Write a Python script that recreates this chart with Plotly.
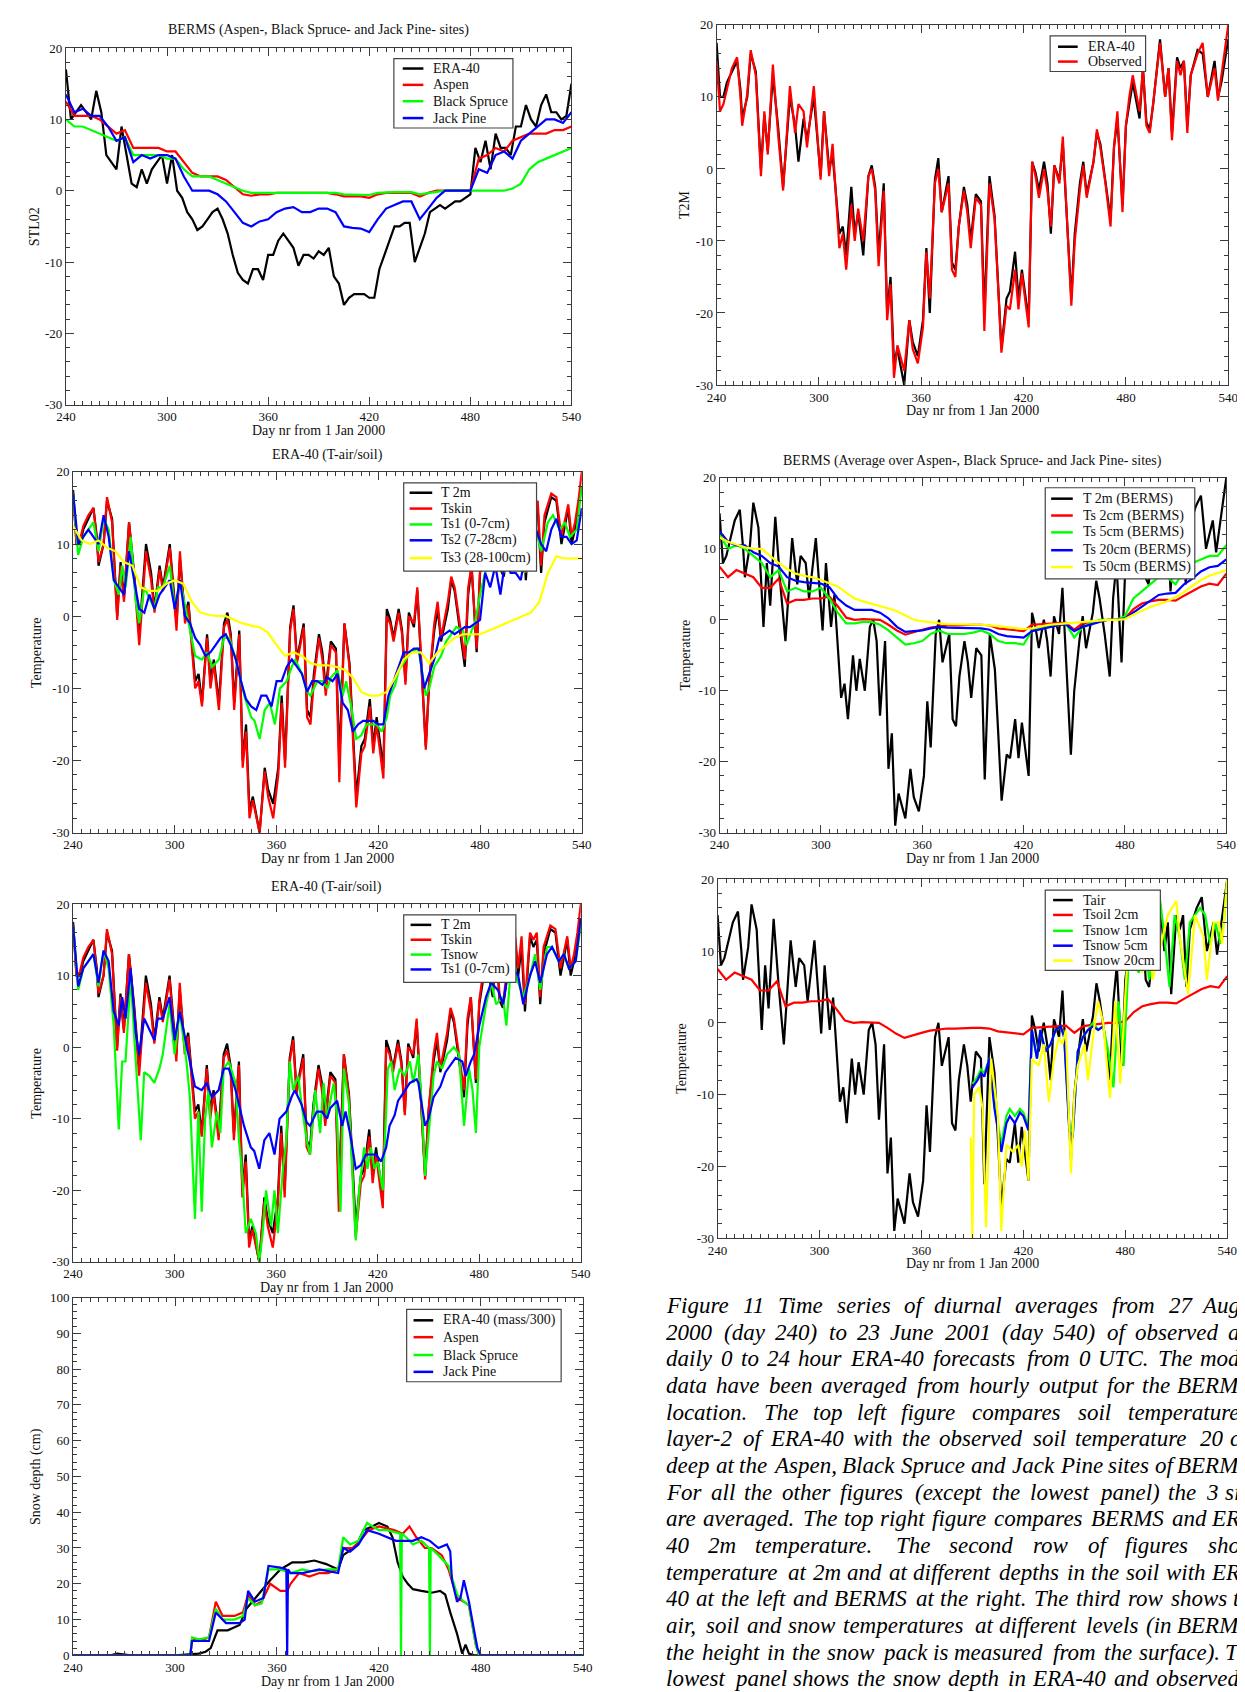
import plotly.graph_objects as go

W, H = 1245, 1692
FONT = "Liberation Serif"
BLACK, RED, GREEN, BLUE, YELLOW = "#000000", "#ff0000", "#00ff00", "#0000ff", "#ffff00"

# ---------------- tick values ----------------
day_ticks = [240, 300, 360, 420, 480, 540]
temp_ticks = [-30, -20, -10, 0, 10, 20]
snow_ticks = [0, 10, 20, 30, 40, 50, 60, 70, 80, 90, 100]

# ---------------- 2 m air temperature (observed BERMS and ERA-40), skin temperature ----------------
day_t2m = [240, 242, 244, 246, 249, 252, 254, 255, 258, 260,
           263, 266, 268, 270, 273, 276, 279, 283, 286, 288,
           291, 293, 297, 301, 303, 306, 308, 312, 314, 316,
           319, 321, 323, 326, 329, 331, 333, 335, 338, 340,
           342, 344, 346, 350, 353, 355, 358, 361, 363, 365,
           368, 370, 372, 376, 378, 380, 382, 385, 387, 389,
           392, 395, 397, 400, 403, 405, 407, 410, 412, 415,
           417, 419, 423, 425, 427, 429, 432, 434, 436, 438,
           441, 443, 445, 448, 450, 453, 455, 457, 461, 463,
           465, 468, 471, 473, 475, 478, 480, 482, 484, 488,
           490, 492, 494, 496, 500, 503, 505, 507, 510, 512,
           514, 516, 518, 522, 525, 528, 532, 534, 536, 538, 540]
obs_t2m = [15, 8, 9, 11, 14, 15.5, 10, 6, 10.5, 16.5,
           13, -1, 8, 2, 14.5, 5, -3, 11.5, 5, 9,
           8, 3, 11.5, -1.5, 8, -1, 3.5, -11, -9, -14,
           -5, -10, -5.5, -10, -1, 0, -3, -13.5, -3, -21,
           -16, -29, -24.5, -28, -21, -25, -27, -22, -11.5, -18,
           -2, 0, -6, -2, -14, -15, -8, -3, -6, -11,
           -4, -5, -22.5, -2, -7, -16, -25.5, -19, -19.5, -14,
           -19.5, -14.5, -22, 1, -1, -4, 0, -3, -8, 0.5,
           -2, 4.5, -5.5, -19, -10, -3, 0.5, -4, 1, 5.5,
           3, -2, -8, 3, 8, -6, 6, 10, 13, 8,
           14, 6, 5, 9, 17.5, 10, 14, 4, 15, 13,
           15, 5, 13, 16, 17.5, 10, 14, 9.5, 13, 17, 20]
era_t2m = [17.5, 10, 10, 12, 13.5, 15, 11, 7, 10, 16,
           13.5, 0, 7.5, 2.5, 13, 6, -2.5, 10, 6, 1,
           7, 4, 10, -1, 8, 0, 2, -9, -8, -12,
           -2.5, -9, -6, -12, -1, 0.5, -2.5, -12, -2, -20,
           -15, -27, -25, -30, -21, -24, -26, -21, -11, -20,
           -1.5, 1.5, -6, -1, -13, -14, -8, -2.5, -5, -10,
           -3.5, -4.5, -20, -1, -6.5, -15, -25, -18, -17, -11.5,
           -18, -14, -21, 1, -0.5, -3, 1, -2, -9, 0.5,
           -1.5, 3.5, -5, -18, -9, -2, 1, -3.5, 1, 5,
           3.5, -1.5, -7, 3, 7, -5, 6, 9, 12, 7,
           14, 6.5, 5.5, 9, 18, 10, 14, 5, 15.5, 14,
           15, 6, 13, 16.5, 16, 10, 15, 10, 12, 15, 18]
era_tskin = [17, 10, 10.5, 12.5, 14, 15, 10.5, 7.5, 10, 16.5,
             13, -0.5, 7, 2, 13, 5.5, -4, 9, 5, 0.5,
             6.5, 3.5, 9.5, -2, 9, -1, 1.5, -10, -9, -12.5,
             -3, -10, -6.5, -13, -1.5, -0.5, -3, -13, -2.5, -21,
             -16, -28, -25.5, -30, -21.5, -25, -28, -22, -12, -21,
             -2, 1, -6.5, -1.5, -14, -15, -9, -3, -6, -11,
             -4, -5, -23, -1, -7, -16, -26.5, -19, -18, -12.5,
             -19, -15, -22.5, 0, -1, -3.5, 0.5, -2.5, -9.5, 0,
             -1, 4, -4.5, -18.5, -9, -1, 2, -3, 2, 5.5,
             4, -1, -6, 4, 7, -4.5, 6.5, 10, 13, 8,
             15, 7, 6, 10, 18.5, 11, 15.5, 6, 16, 15,
             16, 7, 14, 17, 16.5, 11, 15.5, 11, 13, 16, 20]

# ---------------- ERA-40 soil layer 1 (0-7 cm) ----------------
day_ts1 = [240, 243, 246, 249, 252, 255, 258, 261, 264, 267,
           269, 271, 274, 277, 279, 282, 284, 288, 290, 293,
           297, 300, 303, 307, 309, 312, 316, 319, 322, 326,
           329, 332, 336, 338, 341, 345, 347, 350, 353, 356,
           359, 362, 366, 369, 371, 375, 378, 380, 384, 387,
           390, 392, 396, 399, 401, 404, 407, 410, 413, 416,
           419, 422, 425, 427, 430, 432, 436, 439, 443, 444,
           448, 450, 453, 457, 460, 463, 466, 470, 472, 475,
           477, 480, 484, 487, 491, 494, 496, 500, 503, 506,
           510, 513, 516, 520, 523, 527, 530, 533, 537, 540]
era_ts1 = [17, 8.5, 11, 12, 13, 9, 13.5, 12, 5, 3,
           7, 4, 11, 2, -1, 4, 3, 1, 4, 4,
           7, 1, 5, 0, -2, -5.5, -6, -5, -7, -6,
           -3, -3, -6, -8, -11, -14, -14.5, -17, -13, -12,
           -15, -10, -9, -7, -6, -8, -10.5, -11, -9, -9,
           -10, -8.5, -7.5, -11, -9, -12.5, -17, -16.5, -15, -15,
           -15, -16, -14, -11, -9.5, -7.5, -6, -5, -4.5, -5,
           -11, -10, -7, -5.5, -3.5, -2.5, -1.5, -2, -4, -2,
           -1, 3, 7, 9, 8, 6, 9, 11, 10, 6,
           10, 12, 9, 13, 14, 12, 13, 11, 12, 18]

# ---------------- ERA-40 soil layer 2 (7-28 cm) = STL02 ----------------
day_ts2 = list(range(240, 541, 3))
era_ts2 = [17, 10, 11, 12, 11, 10, 14, 11, 5, 4,
           3, 9, 5, 1, 0.5, 3, 1, 3, 4, 5,
           1, 5, 0, -1, -3, -4, -5.5, -5, -4, -3,
           -2.5, -4, -6, -9, -11.5, -12.5, -13, -11, -11, -12.5,
           -9, -9, -7, -6, -7, -8, -10.5, -9, -9, -9.5,
           -8.5, -9, -8, -12, -13, -16, -15, -14.5, -14.5, -14.5,
           -15, -15, -11, -9, -7, -5, -5, -4.5, -4.5, -10,
           -8, -6, -3, -2.5, -2, -2.5, -2, -1.5, -1.5, -1,
           -0.5, 6, 4, 7, 3, 8, 6, 6, 5, 9,
           9, 12, 10, 9, 12, 13.5, 11, 11, 10, 10.5,
           15]

# ---------------- 5-day grid series ----------------
day_5 = list(range(240, 541, 5))
era_ts3 = [12.5, 10.5, 10, 10.5, 9.5, 9, 7.5, 7, 4, 3.5,
           3.5, 4.5, 5, 4.5, 2, 0.5, 0.2, 0, 0, -0.5,
           -1, -1.3, -1.5, -2.3, -4, -5.5, -5, -5.5, -6.5, -6.8,
           -6.8, -7, -7.4, -8.5, -10.5, -11, -11, -10.5, -8.5, -6,
           -5, -5, -6.5, -5, -4, -3, -2.5, -2.5, -2.5, -2,
           -1.5, -1, -0.5, 0, 0.5, 2, 6, 8.3, 8, 8,
           8]
aspen_ts20 = [12.5, 10.5, 10.5, 10.5, 10, 9, 8, 8.5, 6, 6,
              6, 6, 5.5, 5.5, 4, 2.5, 2, 2, 2, 1.5,
              0.5, -0.5, -0.7, -0.5, -0.5, -0.3, -0.3, -0.3, -0.3, -0.3,
              -0.3, -0.3, -0.5, -0.8, -0.8, -0.8, -1, -0.5, -0.3, -0.3,
              -0.3, -0.3, -0.8, -0.3, 0, 0, 0, 0, 0, 4.5,
              5, 6, 5.5, 7, 7.5, 8, 8, 8, 8.5, 8.5,
              9]
bspruce_ts20 = [10, 9, 9, 8.5, 8, 7.5, 7, 7.5, 5, 5,
                5, 5, 4.5, 4.5, 3, 2, 2, 2, 1.5, 1,
                0.5, 0, -0.3, -0.3, -0.2, -0.2, -0.2, -0.2, -0.2, -0.2,
                -0.2, -0.2, -0.3, -0.5, -0.5, -0.5, -0.6, -0.3, -0.2, -0.2,
                -0.2, -0.2, -0.5, -0.3, -0.2, 0, 0, 0, 0, 0,
                0, 0, 0, 0.3, 1, 3, 4, 4.5, 5, 5.5,
                6]
jpine_ts20 = [13.5, 11, 11.5, 10.5, 10.5, 9, 7, 7.5, 4, 5,
              4.5, 5, 5, 4.5, 2, 0, 0, 0, -0.5, -1.5,
              -3, -4.5, -5, -4.3, -4, -3, -2.5, -2.3, -3, -3,
              -2.5, -2.5, -3, -5, -5.2, -5.3, -5.8, -4, -2.5, -2,
              -1.5, -1.5, -4, -2.5, -1, 0, 0, 0, 0, 3,
              2.5, 5, 5.5, 4.5, 7, 8, 9, 10, 10, 9.5,
              11]
berms_ts2 = [7.5, 6, 7, 6.5, 6, 4.5, 4.5, 5.8, 2.3, 2.8,
             2.8, 3, 3, 3.3, 1.9, 0.3, 0, 0.1, 0.1, 0,
             -0.7, -1.5, -2.1, -1.7, -1.4, -1.1, -0.9, -0.8, -0.8, -0.7,
             -0.7, -0.7, -0.8, -1.2, -1.3, -1.4, -1.6, -0.7, -0.6, -0.5,
             -0.4, -0.4, -1.4, -0.5, -0.3, -0.1, 0, 0, 0.2, 1.5,
             2.3, 2.6, 2.8, 2.8, 2.7, 3.4, 4, 4.7, 5.1, 4.9,
             6.5]
berms_ts5 = [12, 10, 10.5, 10, 9, 8, 6, 7, 4, 4.5,
             4, 4, 4.5, 3, 1, -0.5, -0.5, -0.3, -0.3, -0.7,
             -1.5, -2.5, -3.5, -3.3, -3, -2, -1.5, -2, -2, -2,
             -1.8, -1.5, -2, -3, -3.3, -3.3, -3.5, -1.5, -1.2, -1,
             -0.8, -0.5, -2.5, -1, -0.5, 0, 0, 0, 0.5, 3,
             4, 5, 6, 6, 5, 7, 8, 8.5, 9, 9,
             10.5]
berms_ts20 = [12.5, 11, 10.5, 10.5, 9.5, 9, 8, 7.5, 6, 5.5,
              5.3, 5.2, 5.1, 4.6, 3, 2, 1.4, 1.4, 1.4, 1,
              0.2, -1, -1.7, -1.6, -1.5, -1.2, -1, -1.1, -1.1, -1.1,
              -1.1, -1.2, -1.4, -2, -2.3, -2.4, -2.5, -1.6, -1.3, -1,
              -0.8, -0.6, -1.6, -1, -0.6, -0.3, 0, 0, 0.2, 1,
              1.9, 2.7, 3.5, 3.7, 3.8, 5, 5.8, 6.8, 7.4, 7.6,
              8.5]
berms_ts50 = [11.6, 11, 10.6, 10.2, 10, 10, 9, 8, 7.2, 6.5,
              6.2, 6, 5.6, 5.2, 4.7, 3.8, 3, 2.6, 2.3, 1.9,
              1.6, 1.2, 0.6, 0, -0.2, -0.4, -0.5, -0.6, -0.6, -0.6,
              -0.7, -0.7, -0.8, -0.9, -1.1, -1.2, -1.3, -1.2, -0.9, -0.7,
              -0.6, -0.5, -0.4, -0.2, -0.1, 0, 0, 0, 0.1, 0.7,
              1.3, 1.8, 2.2, 2.6, 3.2, 3.9, 4.8, 5.6, 6.2, 6.6,
              7]

# ---------------- ERA-40 snow temperature ----------------
day_tsnow = [240, 243, 246, 249, 252, 255, 258, 261, 264, 267,
             269, 271, 274, 276, 280, 282, 285, 288, 291, 293,
             297, 300, 303, 307, 309, 312, 314, 316, 318, 320,
             322, 325, 327, 329, 332, 336, 338, 340, 342, 345,
             348, 350, 352, 354, 357, 359, 361, 364, 366, 368,
             370, 373, 375, 378, 380, 383, 386, 388, 390, 394,
             396, 398, 400, 403, 405, 407, 409, 412, 414, 416,
             418, 420, 423, 426, 428, 430, 433, 436, 439, 441,
             444, 446, 448, 450, 453, 455, 458, 461, 465, 468,
             471, 474, 476, 478, 480, 484, 487, 490, 494, 496,
             499, 503, 506, 510, 513, 516, 520, 523, 527, 530,
             533, 537, 540]
era_tsnow = [17, 8, 11, 12, 13, 8.5, 13.5, 11, 3, -11.5,
             -2, -2, 10, 2, -13, -3.5, -4, -5, -3, -1,
             6, -1, 5, -2, -7, -24, -9, -23, -10, -6,
             -14, -9, -12, -3, -2, -5, -13, -18, -26, -24,
             -26, -30, -26, -20, -25, -20, -26, -17, -13, -2,
             -6, -4, -8, -13, -15, -6, -12, -5, -10, -5,
             -10, -23, -3, -8, -17, -27, -20, -14, -17, -14,
             -17, -16, -20, -3, -2, -6, -3, -4, -2, -5,
             -1, -8, -18, -12, -4, -2, -3, -1, 0, -1,
             -11, -3, -6, -12, 0, 6, 9, 6, 7, 3,
             12, 9, 7, 10, 13, 8, 14, 14, 12, 13,
             11, 12, 17]

# ---------------- BERMS snow-pack temperatures ----------------
day_tsn5 = [390, 393, 395, 397, 400, 403, 405, 407, 410, 412,
            415, 418, 420, 423, 425, 428, 430, 433, 436, 439,
            442, 444, 447, 449, 452, 455, 458, 461, 464, 467]
tsnow_5cm = [-9, -8, -7, -7.5, -5, -12, -15, -18, -14, -13,
             -14, -12.5, -13, -15, -1, -5, -1, -4, -3, -1,
             -0.5, -2, -15, -16, -4, -2, -1, -0.5, -1, -0.5]
day_tsn1 = [390, 393, 395, 397, 400, 403, 405, 407, 410, 412,
            415, 418, 420, 423, 425, 428, 430, 433, 436, 439,
            442, 444, 447, 449, 452, 455, 458, 461, 464, 467,
            470, 473, 476, 479, 482, 485, 488, 491, 494, 497,
            500, 503, 506, 509, 512, 515, 518, 521, 524, 527,
            530, 533, 536, 538, 540]
tsnow_1cm = [-8.5, -7.5, -6.5, -7, -5, -11.5, -14, -17, -13, -12,
             -13, -12, -12.5, -14.5, -1, -5, -1, -4, -3, -1,
             -0.5, -2, -14, -16, -4, -2, -1, 0, -1, -0.5,
             -4, -9, 3, -6, 9, 8, 7, 13, 6, 10,
             18, 12, 5, 15, 12, 6, 14, 15, 16, 15,
             11, 14, 11, 14, 20]
day_tsn20 = [389, 390, 391, 394, 396, 398, 401, 405, 407, 410,
             414, 417, 419, 421, 423, 425, 429, 432, 435, 438,
             441, 443, 445, 448, 450, 452, 456, 458, 462, 464,
             467, 471, 474, 477, 481, 485, 490, 494, 496, 500,
             505, 510, 512, 517, 521, 526, 528, 532, 535, 537,
             540]
tsnow_20cm = [-16, -30, -10, -9, -12, -28.5, -5, -13, -29, -17,
              -18, -17, -20, -15, -22, -5, -6, -3, -11, -5,
              -2, -3, -1, -21, -10, -6, -3, -8, 0, 3,
              0, -10.5, 3, -8.5, 8, 9, 7, 13, 6, 10,
              15, 17, 12, 4, 15, 12, 6, 14, 14, 11,
              20]

# ---------------- snow depth ----------------
day_sd_era = [240, 262, 266, 270, 274, 300, 310, 314, 318, 321,
              325, 331, 338, 342, 349, 356, 362, 369, 376, 382,
              389, 396, 399, 402, 407, 411, 416, 420, 425, 428,
              431, 434, 437, 440, 445, 451, 456, 459, 462, 466,
              469, 471, 473, 476, 480, 540]
sd_era = [0, 0, 0.5, 0.3, 0, 0, 0.5, 0.5, 1, 2,
          7, 7, 8.5, 13, 17, 21, 24, 26, 26, 26.5,
          25.5, 24, 28, 29, 31, 35, 36, 37, 36, 33,
          26, 22, 20, 18.5, 18, 17.5, 18, 17, 12, 6,
          0.5, 3, 0.5, 0, 0, 0]
day_sd_aspen = [240, 309, 310, 314, 320, 322, 324, 328, 335, 340,
                343, 347, 351, 356, 362, 366, 368, 373, 379, 385,
                390, 396, 399, 405, 409, 414, 420, 429, 434, 438,
                442, 447, 451, 457, 461, 466, 470, 473, 477, 479,
                540]
sd_aspen = [0, 0, 4.5, 4, 5, 10, 15, 11, 11, 12,
            17, 14, 15, 20, 18, 18, 20, 23, 22, 23,
            23, 24, 30, 30, 32, 35, 36, 35, 34, 36,
            33, 30, 30, 28, 24, 16, 15, 14, 3, 0,
            0]
day_sd_bspruce = [240, 309, 310, 314, 320, 322, 324, 328, 335, 340,
                  343, 347, 351, 355, 362, 368, 375, 380, 390, 396,
                  399, 403, 408, 413, 420, 425, 432.5, 433, 433.5, 436,
                  440, 445, 449.5, 450, 450.5, 455, 461, 466, 470, 473,
                  477, 479, 540]
sd_bspruce = [0, 0, 5, 4.5, 5, 9, 13, 10, 10, 11,
              16, 14, 14.5, 24, 24, 23, 24, 23.5, 24, 24,
              33, 31, 32, 37, 35, 35, 34, 0, 34, 33,
              31, 32, 30, 0, 30, 28, 25, 17, 15, 14,
              3, 0, 0]
day_sd_jpine = [240, 309, 310, 314, 320, 322, 324, 330, 338, 341,
                343, 347, 352, 355, 362, 365.5, 366, 366.5, 368, 375,
                385, 396, 399, 403, 408, 413, 420, 430, 440, 445,
                450, 455, 460, 462, 463, 466, 468, 470, 473, 476,
                478, 480, 540]
sd_jpine = [0, 0, 4, 4, 4, 8, 12, 9, 9, 10,
            18, 15, 16, 25, 24.5, 24, 0, 24, 23, 23,
            24, 23, 30, 29, 31, 35, 34, 32, 32, 33,
            32, 30, 31, 29, 21, 15, 16, 21, 15, 7,
            2, 0, 0]

# ---------------- caption ----------------
caption_lines = [
    "Figure 11 Time series of diurnal averages from 27 Aug",
    "2000 (day 240) to 23 June 2001 (day 540) of observed a",
    "daily 0 to 24 hour ERA-40 forecasts from 0 UTC. The mod",
    "data have been averaged from hourly output for the BERM",
    "location. The top left figure compares soil temperature",
    "layer-2 of ERA-40 with the observed soil temperature 20 c",
    "deep at the Aspen, Black Spruce and Jack Pine sites of BERM",
    "For all the other figures (except the lowest panel) the 3 si",
    "are averaged. The top right figure compares BERMS and ER",
    "40 2m temperature. The second row of figures sho",
    "temperature at 2m and at different depths in the soil with ER",
    "40 at the left and BERMS at the right. The third row shows t",
    "air, soil and snow temperatures at different levels (in BERM",
    "the height in the snow pack is measured from the surface). T",
    "lowest panel shows the snow depth in ERA-40 and observed",
]

# ================= figure =================
def fx(px):
    return px / W


def fy(py):
    return 1 - py / H


panels = [
    dict(l=48.7, r=562.5, t=33.3, b=393.3, snow=False, ytitle="STL02", ytx=17,
         title="BERMS (Aspen-, Black Spruce- and Jack Pine- sites)", title_y=15),
    dict(l=710, r=1230, t=10, b=373.3, snow=False, ytitle="T2M", ytx=678, title=None),
    dict(l=56, r=573, t=461, b=825, snow=False, ytitle="Temperature", ytx=19,
         title="ERA-40 (T-air/soil)", title_y=444),
    dict(l=713, r=1228, t=467, b=825, snow=False, ytitle="Temperature", ytx=678,
         title="BERMS (Average over Aspen-, Black Spruce- and Jack Pine- sites)", title_y=450),
    dict(l=56, r=572, t=897, b=1258, snow=False, ytitle="Temperature", ytx=19,
         title="ERA-40 (T-air/soil)", title_y=880),
    dict(l=711, r=1229, t=872, b=1234, snow=False, ytitle="Temperature", ytx=675, title=None),
    dict(l=56, r=574, t=1294, b=1655, snow=True, ytitle="Snow depth (cm)", ytx=19, title=None),
]

series = {
    1: [(day_ts2, era_ts2, BLACK, "ERA-40"), (day_5, aspen_ts20, RED, "Aspen"),
        (day_5, bspruce_ts20, GREEN, "Black Spruce"), (day_5, jpine_ts20, BLUE, "Jack Pine")],
    2: [(day_t2m, era_t2m, BLACK, "ERA-40"), (day_t2m, obs_t2m, RED, "Observed")],
    3: [(day_t2m, era_t2m, BLACK, "T 2m"), (day_t2m, era_tskin, RED, "Tskin"),
        (day_ts1, era_ts1, GREEN, "Ts1 (0-7cm)"), (day_ts2, era_ts2, BLUE, "Ts2 (7-28cm)"),
        (day_5, era_ts3, YELLOW, "Ts3 (28-100cm)")],
    4: [(day_t2m, obs_t2m, BLACK, "T 2m (BERMS)"), (day_5, berms_ts2, RED, "Ts 2cm (BERMS)"),
        (day_5, berms_ts5, GREEN, "Ts 5cm (BERMS)"), (day_5, berms_ts20, BLUE, "Ts 20cm (BERMS)"),
        (day_5, berms_ts50, YELLOW, "Ts 50cm (BERMS)")],
    5: [(day_t2m, era_t2m, BLACK, "T 2m"), (day_t2m, era_tskin, RED, "Tskin"),
        (day_tsnow, era_tsnow, GREEN, "Tsnow"), (day_ts1, era_ts1, BLUE, "Ts1 (0-7cm)")],
    6: [(day_t2m, obs_t2m, BLACK, "Tair"), (day_5, berms_ts2, RED, "Tsoil 2cm"),
        (day_tsn1, tsnow_1cm, GREEN, "Tsnow 1cm"), (day_tsn5, tsnow_5cm, BLUE, "Tsnow 5cm"),
        (day_tsn20, tsnow_20cm, YELLOW, "Tsnow 20cm")],
    7: [(day_sd_era, sd_era, BLACK, "ERA-40 (mass/300)"), (day_sd_aspen, sd_aspen, RED, "Aspen"),
        (day_sd_bspruce, sd_bspruce, GREEN, "Black Spruce"), (day_sd_jpine, sd_jpine, BLUE, "Jack Pine")],
}

# legend geometry: box (l, t, r, b), sample line x0, x1, text x, entry y's
legends = {
    1: dict(box=(382, 44, 503, 114), lx=(391, 412), tx=420, ys=[54, 70.5, 87, 104]),
    2: dict(box=(1049, 21, 1146, 57), lx=(1057, 1077), tx=1085, ys=[32, 47]),
    3: dict(box=(392, 472, 527, 561), lx=(398, 421), tx=428, ys=[482, 498, 514, 530, 548]),
    4: dict(box=(1044, 477, 1196, 569), lx=(1050, 1072), tx=1080, ys=[488, 505, 522, 540, 557]),
    5: dict(box=(392, 908, 506, 976), lx=(399, 420), tx=428, ys=[918, 933, 948, 963]),
    6: dict(box=(1044, 883, 1161, 964), lx=(1052, 1072), tx=1080, ys=[893, 908, 924, 939, 954]),
    7: dict(box=(395, 1306, 552, 1379), lx=(402, 422), tx=430, ys=[1317, 1334, 1352, 1369]),
}

fig = go.Figure()
layout = dict(width=W, height=H, margin=dict(l=0, r=0, t=0, b=0), autosize=False,
              paper_bgcolor="white", plot_bgcolor="white", showlegend=False)
annotations = []
shapes = []
AX = "#3a3a3a"
TXT = "#111111"

for i, p in enumerate(panels, start=1):
    xn = "xaxis" if i == 1 else f"xaxis{i}"
    yn = "yaxis" if i == 1 else f"yaxis{i}"
    xr = "x" if i == 1 else f"x{i}"
    yr = "y" if i == 1 else f"y{i}"
    layout[xn] = dict(
        domain=[fx(p["l"]), fx(p["r"])], anchor=yr, range=[240, 540],
        tickmode="array", tickvals=day_ticks, ticktext=[str(v) for v in day_ticks],
        ticks="inside", ticklen=8, tickwidth=1, tickcolor=AX,
        minor=dict(tickmode="linear", tick0=240, dtick=5, ticks="inside", ticklen=4,
                   tickwidth=1, tickcolor=AX, showgrid=False),
        showline=True, linecolor=AX, linewidth=1, mirror="allticks",
        showgrid=False, zeroline=False,
        tickfont=dict(family=FONT, size=13, color=TXT), fixedrange=True,
    )
    if p["snow"]:
        yt, yrange, ydt = snow_ticks, [0, 100], 2
    else:
        yt, yrange, ydt = temp_ticks, [-30, 20], 2
    layout[yn] = dict(
        domain=[fy(p["b"]), fy(p["t"])], anchor=xr, range=yrange,
        tickmode="array", tickvals=yt, ticktext=[str(v) for v in yt],
        ticks="inside", ticklen=8, tickwidth=1, tickcolor=AX,
        minor=dict(tickmode="linear", tick0=yrange[0], dtick=ydt, ticks="inside", ticklen=4,
                   tickwidth=1, tickcolor=AX, showgrid=False),
        showline=True, linecolor=AX, linewidth=1, mirror="allticks",
        showgrid=False, zeroline=False,
        tickfont=dict(family=FONT, size=13, color=TXT), fixedrange=True,
    )
    for xs, ys, col, name in series[i]:
        fig.add_trace(go.Scatter(x=xs, y=ys, mode="lines", name=name,
                                 line=dict(color=col, width=2.2),
                                 xaxis=xr, yaxis=yr, showlegend=False))
    cx = (p["l"] + p["r"]) / 2
    xt_y = min(p["b"] + 26, 1682.5)
    annotations.append(dict(x=fx(cx), y=fy(xt_y), xref="paper", yref="paper",
                            text="Day nr from 1 Jan 2000", showarrow=False,
                            xanchor="center", yanchor="middle",
                            font=dict(family=FONT, size=14, color=TXT)))
    annotations.append(dict(x=fx(p["ytx"]), y=fy((p["t"] + p["b"]) / 2), xref="paper", yref="paper",
                            text=p["ytitle"], showarrow=False, textangle=-90,
                            xanchor="center", yanchor="middle",
                            font=dict(family=FONT, size=14, color=TXT)))
    if p["title"]:
        annotations.append(dict(x=fx(cx), y=fy(p["title_y"]), xref="paper", yref="paper",
                                text=p["title"], showarrow=False,
                                xanchor="center", yanchor="middle",
                                font=dict(family=FONT, size=14, color=TXT)))
    lg = legends[i]
    bl, bt, br, bb = lg["box"]
    shapes.append(dict(type="rect", xref="paper", yref="paper", x0=fx(bl), x1=fx(br),
                       y0=fy(bb), y1=fy(bt), fillcolor="white",
                       line=dict(color="#444", width=1.2), layer="above"))
    for (xs, ys, col, name), ly in zip(series[i], lg["ys"]):
        shapes.append(dict(type="line", xref="paper", yref="paper",
                           x0=fx(lg["lx"][0]), x1=fx(lg["lx"][1]), y0=fy(ly), y1=fy(ly),
                           line=dict(color=col, width=2.5), layer="above"))
        annotations.append(dict(x=fx(lg["tx"]), y=fy(ly), xref="paper", yref="paper",
                                text=name, showarrow=False, xanchor="left", yanchor="middle",
                                font=dict(family=FONT, size=14, color=TXT)))

# ---------------- caption (justified, Times italic metrics) ----------------
lower_w = dict(zip("abcdefghijklmnopqrstuvwxyz",
                   [500, 500, 444, 500, 444, 278, 500, 500, 278, 278, 444, 278, 722,
                    500, 500, 500, 500, 389, 389, 278, 500, 444, 667, 444, 444, 389]))
upper_w = dict(zip("ABCDEFGHIJKLMNOPQRSTUVWXYZ",
                   [611, 611, 667, 722, 611, 611, 722, 722, 333, 444, 667, 556, 833,
                    667, 722, 611, 722, 611, 500, 556, 722, 611, 833, 611, 556, 556]))
punct_w = {".": 250, ",": 250, "-": 333, "(": 333, ")": 333, " ": 250}
CAP_FS = 23
CAP_SCALE = 1.05
CAP_X0, CAP_X1 = 658, 1243
CAP_Y0, CAP_DY = 1302, 26.9


def text_w(s):
    tot = 0
    for ch in s:
        if ch in lower_w:
            tot += lower_w[ch]
        elif ch in upper_w:
            tot += upper_w[ch]
        elif ch.isdigit():
            tot += 500
        else:
            tot += punct_w.get(ch, 400)
    return tot * CAP_FS * CAP_SCALE / 1000.0


for li, line in enumerate(caption_lines):
    words = line.split()
    widths = [text_w(w) for w in words]
    gap = (CAP_X1 - CAP_X0 - sum(widths)) / (len(words) - 1)
    gap = max(gap, 0.2 * CAP_FS)
    xpos = CAP_X0
    ypos = CAP_Y0 + li * CAP_DY
    for wi, (w, wd) in enumerate(zip(words, widths)):
        last = wi == len(words) - 1
        annotations.append(dict(x=fx(CAP_X1 if last else xpos), y=fy(ypos), xref="paper", yref="paper",
                                text=w, showarrow=False, xanchor="right" if last else "left",
                                yanchor="middle", borderpad=0,
                                font=dict(family=FONT, size=CAP_FS, color="black", style="italic")))
        xpos += wd + gap

layout["annotations"] = annotations
layout["shapes"] = shapes
fig.update_layout(**layout)
fig.write_html("out.html")
